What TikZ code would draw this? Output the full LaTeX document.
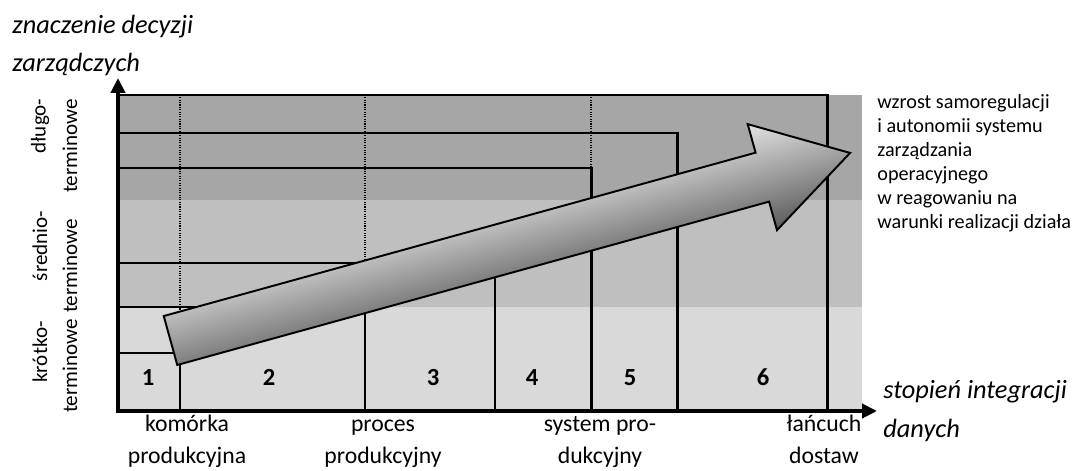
\documentclass[tikz,border=0pt]{standalone}
\usepackage{fontspec}
\setmainfont{Carlito}
\usetikzlibrary{arrows.meta}
\definecolor{banddark}{HTML}{A6A6A6}
\definecolor{bandmid}{HTML}{BFBFBF}
\definecolor{bandlight}{HTML}{D9D9D9}
\definecolor{arrowtop}{HTML}{E2E2E2}
\definecolor{arrowbot}{HTML}{5A5A5A}
\begin{document}
\begin{tikzpicture}[x=0.02cm, y=-0.02cm,
  frame/.style={line width=1.7pt},
  axisline/.style={line width=2.6pt, line cap=rect, -{Triangle[length=8.5pt,width=8pt]}},
  guide/.style={line width=0.6pt, dash pattern=on 0.6pt off 0.75pt},
  axlabel/.style={font=\fontsize{15}{18}\selectfont\itshape, inner sep=0pt, anchor=base west},
  catlabel/.style={font=\fontsize{13.5}{16}\selectfont, inner sep=0pt, anchor=base},
  horizon/.style={font=\fontsize{12}{14}\selectfont, rotate=90, inner sep=0pt},
  cellno/.style={font=\fontsize{14}{16}\selectfont\bfseries, inner sep=0pt, anchor=base},
  note/.style={font=\fontsize{11.5}{13.5}\selectfont, inner sep=0pt, anchor=base west},
]
\useasboundingbox (0,0) rectangle (1085,470);

% horizon bands
\fill[banddark]  (118,95)  rectangle (862,200);
\fill[bandmid]   (118,200) rectangle (862,307);
\fill[bandlight] (118,307) rectangle (862,411);

% dotted guides
\draw[guide] (180,95) -- (180,353);
\draw[guide] (365,95) -- (365,307);
\draw[guide] (591,95) -- (591,168);

% nested scopes 1..6
\foreach \r/\t in {180/353, 365/307, 495/263, 591/168, 677/133, 827/95}
  \draw[frame] (118,411) rectangle (\r,\t);

% axes
\coordinate (O) at (118,411);
\coordinate (ytip) at (118,78);
\coordinate (xtip) at (877,411);
\draw[axisline] (O) -- (ytip);
\draw[axisline] (O) -- (xtip);

% growth arrow
\begin{scope}[transform canvas={shift={(170.5,340.5)}, rotate=15.43}]
  \shade[top color=arrowtop, bottom color=arrowbot, draw=black, line width=1.1pt, line join=miter]
    (0,-25.4) -- (614,-25.4) -- (614,-55) -- (705,0) -- (614,55) -- (614,25.4) -- (0,25.4) -- cycle;
\end{scope}

% cell numbers
\node[cellno] (n1) at (148,385) {1};
\node[cellno] (n2) at (269,385) {2};
\node[cellno] (n3) at (433,385) {3};
\node[cellno] (n4) at (532,385) {4};
\node[cellno] (n5) at (630,385) {5};
\node[cellno] (n6) at (763,385) {6};

% axis titles
\node[axlabel] (yt1) at (12,33) {znaczenie decyzji};
\node[axlabel] (yt2) at (12,71) {zarządczych};
\node[axlabel] (xt1) at (883,398) {stopień integracji};
\node[axlabel] (xt2) at (883,437) {danych};

% categories along the x axis
\node[catlabel] (c1a) at (187,431) {komórka};
\node[catlabel] (c1b) at (187,463) {produkcyjna};
\node[catlabel] (c2a) at (383,431) {proces};
\node[catlabel] (c2b) at (383,463) {produkcyjny};
\node[catlabel] (c3a) at (600,431) {system pro-};
\node[catlabel] (c3b) at (600,463) {dukcyjny};
\node[catlabel] (c4a) at (824,431) {łańcuch};
\node[catlabel] (c4b) at (824,463) {dostaw};

% decision horizons
\node[horizon] (h1a) at (40,126) {długo-};
\node[horizon] (h1b) at (70,146) {terminowe};
\node[horizon] (h2a) at (40,246) {średnio-};
\node[horizon] (h2b) at (70,266) {terminowe};
\node[horizon] (h3a) at (40,352) {krótko-};
\node[horizon] (h3b) at (70,366) {terminowe};

% description of the arrow
\foreach \txt [count=\i] in {wzrost samoregulacji, i autonomii systemu, zarządzania,
    operacyjnego, w reagowaniu na, warunki realizacji działa}
  \node[note] (d\i) at (877,{108.5+24*(\i-1)}) {\txt};
\end{tikzpicture}
\end{document}
